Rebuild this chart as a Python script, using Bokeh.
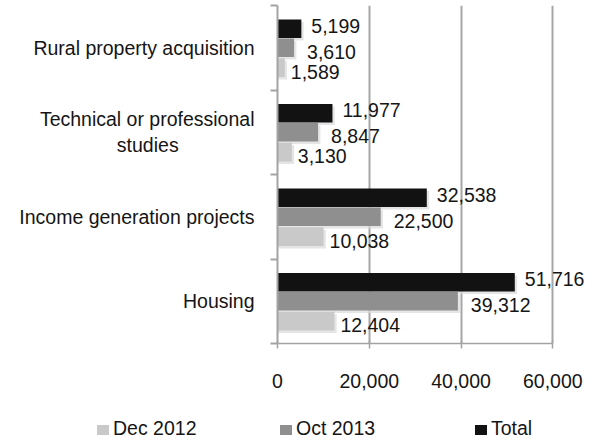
from bokeh.plotting import figure
from bokeh.layouts import column
from bokeh.models import (ColumnDataSource, Range1d, FixedTicker, NumeralTickFormatter,
                          LabelSet, Div)
from bokeh.core.properties import value
from bokeh.embed import file_html
from bokeh.resources import INLINE

# ---- data ----
categories = ["Rural property acquisition", "Technical or professional studies",
              "Income generation projects", "Housing"]
dec_2012 = [1589, 3130, 10038, 12404]
oct_2013 = [3610, 8847, 22500, 39312]
total = [5199, 11977, 32538, 51716]
series_names = ["Dec 2012", "Oct 2013", "Total"]
x_ticks = [0, 20000, 40000, 60000]

FONT = "Liberation Sans"
FS = "19.5px"
TEXT = "#151515"
GRAY = "#a3a3a3"
COLORS = ["#c9c9c9", "#8f8f8f", "#121212"]
n = len(categories)
centers = [n - 1 - i + 0.5 for i in range(n)]  # first category at the top

def wrap(txt):
    if txt.startswith("Technical"):
        return "Technical or professional\nstudies" + "\u00a0" * 14
    return txt

p = figure(width=605, height=399, x_range=Range1d(0, 68000), y_range=Range1d(0, n),
           output_backend="svg", toolbar_location=None,
           min_border_left=277, min_border_right=16, min_border_top=5, min_border_bottom=56)
p.outline_line_color = None

# x axis
xa = p.xaxis[0]
xa.ticker = FixedTicker(ticks=x_ticks)
xa.formatter = NumeralTickFormatter(format="0,0")
xa.bounds = (x_ticks[0], x_ticks[-1])
xa.axis_line_color = GRAY
xa.axis_line_width = 1.5
xa.major_tick_line_color = GRAY
xa.major_tick_line_width = 1.5
xa.major_tick_in = 3
xa.major_tick_out = 5
xa.minor_tick_line_color = None
xa.major_label_text_font = FONT
xa.major_label_text_font_size = FS
xa.major_label_text_color = TEXT
xa.major_label_standoff = 25

# y axis: labels at category centres, ticks at category boundaries
ya = p.yaxis[0]
ya.ticker = FixedTicker(ticks=centers, minor_ticks=list(range(n + 1)))
ya.major_label_overrides = {c: wrap(t) for c, t in zip(centers, categories)}
ya.major_label_text_font = FONT
ya.major_label_text_font_size = FS
ya.major_label_text_color = TEXT
ya.major_label_standoff = 16
ya.axis_line_color = GRAY
ya.axis_line_width = 2
ya.major_tick_line_color = None
ya.major_tick_in = 0
ya.major_tick_out = 0
ya.minor_tick_line_color = GRAY
ya.minor_tick_line_width = 2
ya.minor_tick_in = 0
ya.minor_tick_out = 7

p.xgrid.ticker = FixedTicker(ticks=x_ticks[1:])
p.xgrid.grid_line_color = "#a6a6a6"
p.xgrid.grid_line_width = 2
p.ygrid.grid_line_color = None

# series styling: (values, colour, vertical offset, label x/y offset)
specs = [
    (dec_2012, COLORS[0], -0.235, 6, -4),
    (oct_2013, COLORS[1], 0.0, 13, -4),
    (total, COLORS[2], 0.225, 10, 3),
]
BAR_H = 0.22

sources = []
for vals, color, off, xo, yo in specs:
    sources.append(ColumnDataSource(dict(
        y=[c + off for c in centers],
        v=vals,
        sh_y=[c + off - 0.03 for c in centers],
        sh_v=[v + 500 for v in vals],
        lbl=[f"{v:,}" for v in vals],
    )))

# soft shadows
for src in sources:
    p.hbar(y="sh_y", right="sh_v", left=0, height=BAR_H, source=src,
           fill_color="#dadada", fill_alpha=0.7, line_color=None)

for src, (vals, color, off, xo, yo) in zip(sources, specs):
    p.hbar(y="y", right="v", left=0, height=BAR_H, source=src,
           fill_color=color, line_color=None)

for src, (vals, color, off, xo, yo) in zip(sources, specs):
    p.add_layout(LabelSet(x="v", y="y", text="lbl", source=src, x_offset=xo, y_offset=yo,
                          text_font=value(FONT), text_font_size=value(FS),
                          text_color=value(TEXT), text_baseline="middle", text_align="left"))

# ---- legend strip below the chart ----
legend_left = [97, 280, 475]
items = "".join(
    f'<div style="position:absolute;left:{x}px;top:19px;white-space:nowrap;line-height:21px;">'
    f'<span style="display:inline-block;width:12px;height:10px;background:{c};margin-right:4px;"></span>'
    f'{name}</div>'
    for x, c, name in zip(legend_left, COLORS, series_names)
)
legend_div = Div(
    text=f'<div style="position:relative;width:605px;height:42px;font-family:\'{FONT}\';'
         f'font-size:{FS};color:{TEXT};">{items}</div>',
    width=605, height=42, margin=0)

layout = column(p, legend_div, spacing=0)
open("out.html", "w").write(file_html(layout, INLINE))
